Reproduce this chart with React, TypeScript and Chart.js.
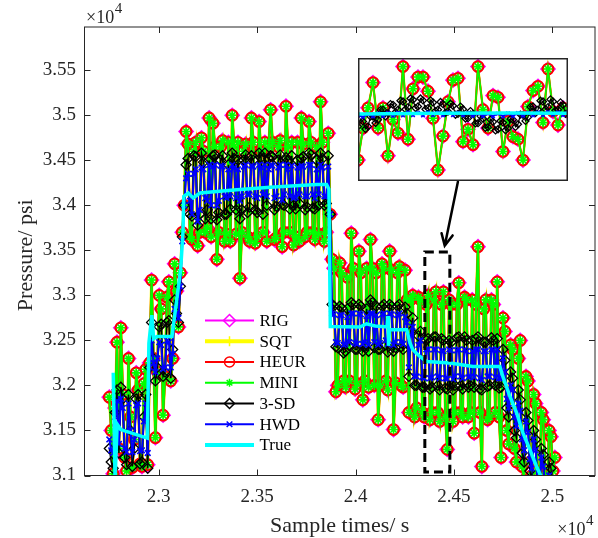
import React, { useEffect, useRef } from 'react';
import { Chart, registerables } from 'chart.js';

Chart.register(...registerables);

// ---------------- data ----------------
const SAMPLE_START = 22750; // s
const SAMPLE_STEP = 9.75; // s

// RIG / SQT / HEUR / MINI all show the same noisy measurement (psi)
const measured = [
  31870, 31500, 31020, 31750, 32480, 31300, 32640, 31900, 31200, 31050,
  32300, 31650, 31090, 31400, 32140, 31950, 31130, 31100, 32020, 32180,
  31120, 32250, 33170, 32300, 31420, 32150, 33000, 32850, 31670, 32100,
  32980, 33150, 32050, 32300, 33350, 33050, 32650, 33250, 33700, 34000,
  34820, 34680, 33650, 33620, 34600, 34700, 33550, 33700, 34750, 34600,
  33700, 33750, 34970, 33650, 34910, 34650, 33400, 33700, 34650, 34720,
  33600, 33680, 34700, 33600, 35000, 34650, 33680, 34700, 33190, 33700,
  34600, 34680, 33650, 33600, 34970, 34700, 33580, 33650, 34930, 34600,
  33700, 34700, 33600, 34650, 35060, 34700, 33620, 33640, 34650, 34720,
  33540, 33700, 35100, 34650, 33700, 34700, 33560, 33650, 34700, 33600,
  34970, 34680, 33650, 33700, 34930, 34700, 33700, 33620, 34650, 33680,
  35150, 34700, 33600, 33700, 34800, 33900,
  33400, 33300, 31930, 32000, 33360, 33250, 32050, 31980, 33200, 32050,
  33690, 33300, 31960, 32020, 33490, 33250, 31840, 32050, 33300, 31980,
  33620, 33300, 32000, 33250, 31620, 32000, 33350, 33300, 32050, 31950,
  33490, 33280, 31510, 32030, 33250, 33320, 32000, 31980, 33280, 32950,
  31700, 32950, 33000, 31650, 31750, 32980, 32950, 31700, 31650, 32900,
  33000, 31620, 31700, 32950, 33040, 31700, 31600, 32900, 33040, 31650,
  31290, 32950, 32900, 31600, 31700, 32900, 33140, 31700, 31650, 32980,
  32950, 31650, 31700, 32950, 31470, 32900, 33540, 31700, 31100, 32850,
  32950, 31620, 31650, 32950, 32900, 31700, 33150, 31650, 31200, 32750,
  32600, 31500, 31350, 32450, 32400, 31300, 31150, 32300, 32500, 31100,
  30950, 32100, 32050, 31150, 31000, 31900, 31800, 31050, 30800, 31700,
  31620, 31000, 30700, 31500, 31430, 31050, 31200,
];

const threeSD = [
  31300, 31150, 31080, 31700, 31950, 31250, 31980, 31850, 31200, 31120,
  31900, 31500, 31100, 31300, 31850, 31900, 31130, 31150, 31650, 31900,
  31080, 32200, 32700, 32300, 32050, 32200, 32650, 32680, 32100, 32150,
  32700, 32720, 32080, 32400, 32950, 32800, 32700, 33100, 33650, 34000,
  34450, 34520, 33900, 33880, 34550, 34540, 33780, 33900, 34580, 34480,
  33850, 33950, 34500, 33850, 34550, 34560, 33840, 33920, 34500, 34550,
  33900, 33900, 34450, 33960, 34580, 34520, 33950, 34500, 33850, 33950,
  34500, 34560, 33920, 33980, 34550, 34500, 33950, 33920, 34580, 34530,
  33900, 34580, 34000, 34520, 34550, 34540, 33950, 33990, 34500, 34560,
  34010, 34000, 34530, 34500, 33960, 34550, 34000, 33960, 34500, 34020,
  34520, 34540, 33950, 33980, 34580, 34560, 33970, 33960, 34500, 34000,
  34580, 34520, 34000, 34020, 34550, 33900,
  32900, 32880, 32430, 32420, 32880, 32860, 32360, 32380, 32850, 32440,
  32920, 32900, 32400, 32400, 32900, 32880, 32380, 32430, 32850, 32380,
  32950, 32920, 32420, 32880, 32400, 32400, 32880, 32900, 32450, 32370,
  32900, 32880, 32380, 32420, 32880, 32900, 32430, 32400, 32870, 32800,
  32100, 32600, 32750, 32000, 32000, 32550, 32600, 31980, 31980, 32500,
  32520, 31960, 31980, 32540, 32540, 32000, 31950, 32520, 32500, 31970,
  31960, 32500, 32480, 31950, 32000, 32530, 32540, 32000, 31960, 32540,
  32500, 31980, 32000, 32500, 31980, 32520, 32540, 31960, 31950, 32480,
  32480, 31990, 32000, 32530, 32500, 32000, 32520, 31970, 31980, 32400,
  32280, 31750, 31650, 32150, 32080, 31500, 31420, 31950, 31840, 31250,
  31150, 31700, 31610, 31050, 30950, 31500, 31400, 30850, 30750, 31300,
  31230, 30700, 30600, 31150, 31080, 30600, 30500,
];

const hwd = [
  31400, 31280, 31250, 31650, 31830, 31350, 31850, 31750, 31300, 31260,
  31800, 31500, 31260, 31400, 31780, 31800, 31270, 31280, 31600, 31800,
  31250, 32200, 32500, 32250, 32150, 32300, 32480, 32450, 32180, 32200,
  32500, 32480, 32200, 32350, 32850, 32800, 32750, 33100, 33600, 34000,
  34300, 34350, 34050, 33900, 34350, 34400, 33820, 33950, 34420, 34400,
  34080, 34050, 34450, 34000, 34430, 34450, 34000, 34050, 34440, 34430,
  34100, 34080, 34400, 34100, 34450, 34420, 34080, 34400, 34050, 34100,
  34430, 34450, 34120, 34120, 34440, 34430, 34100, 34080, 34450, 34420,
  34120, 34450, 34100, 34400, 34450, 34440, 34080, 34100, 34420, 34450,
  34060, 34120, 34450, 34400, 34100, 34440, 34080, 34090, 34420, 34120,
  34440, 34430, 34100, 34100, 34450, 34450, 34120, 34080, 34400, 34120,
  34450, 34420, 34100, 34100, 34430, 33900,
  32800, 32790, 32480, 32470, 32780, 32780, 32450, 32460, 32760, 32480,
  32800, 32800, 32470, 32460, 32800, 32790, 32460, 32480, 32770, 32450,
  32800, 32800, 32480, 32780, 32450, 32470, 32790, 32800, 32500, 32460,
  32800, 32790, 32450, 32480, 32780, 32800, 32480, 32460, 32760, 32700,
  32200, 32550, 32650, 32100, 32100, 32450, 32500, 32090, 32080, 32400,
  32400, 32080, 32090, 32400, 32400, 32100, 32080, 32390, 32380, 32080,
  32070, 32400, 32390, 32070, 32100, 32390, 32400, 32100, 32080, 32400,
  32380, 32090, 32100, 32380, 32090, 32400, 32400, 32080, 32060, 32380,
  32380, 32100, 32100, 32400, 32390, 32090, 32400, 32080, 32080, 32300,
  32150, 31850, 31750, 32000, 31950, 31650, 31550, 31800, 31720, 31400,
  31280, 31600, 31480, 31180, 31080, 31400, 31280, 30950, 30880, 31200,
  31100, 30800, 30720, 31000, 30950, 30700, 30650,
];

const trueTimes = [
  22770, 22779, 22790, 22808, 22880, 22943, 22951, 22966, 22975, 22992,
  23068, 23112, 23124, 23128, 23151, 23176, 23210, 23397, 23566, 23803,
  23853, 23865, 23872, 24022, 24056, 24100, 24160, 24165, 24168, 24172,
  24260, 24276, 24291, 24327, 24361, 24479, 24596, 24733, 24748, 24784,
  24818, 24850, 24886, 24919, 24961,
];
const trueValues = [
  32140, 30950, 31570, 31510, 31460, 31415, 32470, 32780, 32520, 32544,
  32544, 33285, 33700, 34100, 34137, 34082, 34137, 34174, 34200, 34230,
  34230, 34180, 32655, 32649, 32685, 32660, 32650, 32770, 32440, 32620,
  32619, 32474, 32397, 32322, 32266, 32249, 32211, 32211, 32100, 31878,
  31696, 31474, 31285, 31100, 30900,
];

// inset (zoomed view of the dashed box)
const INSET_START = 24352;
const INSET_STEP = 3;
const INSET_FINE_STEP = 1.5;
const insetMeasured = [
  31490, 32010, 32340, 32750, 32010, 32340, 31560, 32150, 31930, 33010,
  31830, 32650, 32840, 32840, 32610, 32170, 31330, 31880, 32440, 32790,
  32820, 31790, 31990, 31740, 33010, 32310, 32010, 32540, 32510, 31630,
  32120, 31870, 31830, 31490, 32360, 32620, 32690, 32100, 32970, 32280,
  32060, 32340, 32280,
];
const insetThreeSD = [
  32036, 32156, 32117, 31996, 32036, 32197, 32199, 32092, 32145, 32306,
  32308, 32200, 32253, 32401, 32389, 32268, 32308, 32455, 32443, 32317,
  32351, 32491, 32471, 32336, 32362, 32491, 32460, 32317, 32335, 32461,
  32427, 32287, 32308, 32434, 32400, 32260, 32280, 32406, 32373, 32227,
  32242, 32360, 32318, 32165, 32172, 32287, 32242, 32086, 32090, 32205,
  32161, 32013, 32025, 32148, 32112, 31972, 31992, 32126, 32101, 31975,
  32009, 32157, 32145, 32029, 32074, 32230, 32226, 32127, 32188, 32355,
  32362, 32255, 32308, 32455, 32443, 32317, 32351, 32477, 32443, 32295,
  32308, 32428, 32389, 32241, 32253,
];
const insetHwd = [
  32215, 32190, 32235, 32200, 32250, 32205, 32255, 32210, 32260, 32215,
  32265, 32220, 32260, 32215, 32265, 32220, 32260, 32215, 32265, 32220,
  32260, 32215, 32255, 32210, 32250, 32205, 32245, 32200, 32245, 32200,
  32250, 32205, 32255, 32210, 32260, 32215, 32265, 32220, 32270, 32225,
  32265, 32220, 32260,
];
const insetTrueTimes = [24352, 24400, 24440, 24478];
const insetTrueValues = [32240, 32250, 32255, 32250];

const xTicks = [23000, 23500, 24000, 24500, 25000];
const yTicks = [31000, 31500, 32000, 32500, 33000, 33500, 34000, 34500, 35000, 35500];
const X_MIN = 22624;
const X_MAX = 25216;
const Y_MIN = 31000;
const Y_MAX = 35980;
const INSET_Y_MIN = 31150;
const INSET_Y_MAX = 33150;

// annotation positions in data units
const zoomBox = { x0: 24352, x1: 24479, y0: 31039, y1: 33483 };
const arrowLine = { fromX: 24520, fromY: 34263, toX: 24453, toY: 33551 };
const insetArea = { x0: 24014, x1: 25077, y0: 34274, y1: 35638 };

const seriesNames = ['RIG', 'SQT', 'HEUR', 'MINI', '3-SD', 'HWD', 'True'];
const seriesColors = ['#ff00ff', '#ffff00', '#ff0000', '#00ff00', '#000000', '#0000ff', '#00ffff'];
const seriesMarkers: (string | false)[] = ['rectRot', 'cross', 'circle', 'star', 'rectRot', 'crossRot', false];
const markerRadius = [7, 5, 5.2, 4.5, 5, 4, 0];
const markerWidth = [1.6, 1.5, 2.3, 1.6, 1.3, 1.6, 0];
const lineWidths = [2, 3, 2.4, 2.1, 1.5, 2, 3.5];
const legendLineWidths = [2, 4, 2, 2, 2, 2, 4];
const legendMarkerRadius = [6, 5, 5, 4, 5, 4, 0];

const SERIF = '"Liberation Serif", "Times New Roman", serif';
const AXIS_COLOR = '#262626';

Chart.defaults.font.family = SERIF;

const fmt = (v: number) => String(parseFloat((v / 1e4).toFixed(3)));
const gridPoints = (vals: number[], start: number, step: number) =>
  vals.map((v, i) => ({ x: start + i * step, y: v }));
const zipPoints = (xs: number[], ys: number[]) => xs.map((x, i) => ({ x, y: ys[i] }));

function makeDatasets(meas: any[], sd: any[], hw: any[], tru: any[], sdRadius: number, hwRadius: number, lineScale: number) {
  const series = [meas, meas, meas, meas, sd, hw, tru];
  return seriesNames.map((name, k) => ({
    label: name,
    data: series[k],
    borderColor: seriesColors[k],
    backgroundColor: seriesColors[k],
    borderWidth: k === 6 ? lineWidths[k] : lineWidths[k] * lineScale,
    pointStyle: seriesMarkers[k],
    pointRadius: k === 4 ? sdRadius : k === 5 ? hwRadius : markerRadius[k],
    pointHoverRadius: 0,
    pointBorderWidth: markerWidth[k],
    pointBorderColor: seriesColors[k],
    pointBackgroundColor: 'rgba(0,0,0,0)',
    tension: 0,
    order: 7 - k,
    clip: 0,
  }));
}

function drawMarker(ctx: CanvasRenderingContext2D, style: string | false, x: number, y: number, r: number, color: string, lw: number) {
  if (!style || r <= 0) return;
  const d = r * Math.SQRT1_2;
  ctx.save();
  ctx.strokeStyle = color;
  ctx.lineWidth = lw;
  ctx.beginPath();
  if (style === 'rectRot') {
    ctx.moveTo(x, y - r);
    ctx.lineTo(x + r, y);
    ctx.lineTo(x, y + r);
    ctx.lineTo(x - r, y);
    ctx.closePath();
  } else if (style === 'cross') {
    ctx.moveTo(x - r, y); ctx.lineTo(x + r, y);
    ctx.moveTo(x, y - r); ctx.lineTo(x, y + r);
  } else if (style === 'circle') {
    ctx.arc(x, y, r, 0, Math.PI * 2);
  } else if (style === 'star') {
    ctx.moveTo(x - r, y); ctx.lineTo(x + r, y);
    ctx.moveTo(x, y - r); ctx.lineTo(x, y + r);
    ctx.moveTo(x - d, y - d); ctx.lineTo(x + d, y + d);
    ctx.moveTo(x - d, y + d); ctx.lineTo(x + d, y - d);
  } else if (style === 'crossRot') {
    ctx.moveTo(x - d, y - d); ctx.lineTo(x + d, y + d);
    ctx.moveTo(x - d, y + d); ctx.lineTo(x + d, y - d);
  }
  ctx.stroke();
  ctx.restore();
}

function drawTimes10(ctx: CanvasRenderingContext2D, x: number, baseline: number, alignRight: boolean) {
  ctx.save();
  ctx.fillStyle = AXIS_COLOR;
  ctx.textBaseline = 'alphabetic';
  ctx.textAlign = 'left';
  ctx.font = `18px ${SERIF}`;
  const w1 = ctx.measureText('\u00d710').width;
  ctx.font = `15px ${SERIF}`;
  const w2 = ctx.measureText('4').width;
  const x0 = alignRight ? x - w1 - w2 : x;
  ctx.font = `18px ${SERIF}`;
  ctx.fillText('\u00d710', x0, baseline);
  ctx.font = `15px ${SERIF}`;
  ctx.fillText('4', x0 + w1 + 0.5, baseline - 10);
  ctx.restore();
}

const decorPlugin = {
  id: 'decor',
  afterDatasetsDraw(chart: any) {
    const { ctx, scales } = chart;
    const x = scales.x, y = scales.y;
    ctx.save();
    ctx.strokeStyle = '#000000';
    ctx.lineWidth = 3;
    ctx.setLineDash([9, 5]);
    const bx0 = x.getPixelForValue(zoomBox.x0);
    const bx1 = x.getPixelForValue(zoomBox.x1);
    const by0 = y.getPixelForValue(zoomBox.y0);
    const by1 = y.getPixelForValue(zoomBox.y1);
    ctx.strokeRect(bx0, by1, bx1 - bx0, by0 - by1);
    ctx.setLineDash([]);
    const ax0 = x.getPixelForValue(arrowLine.fromX);
    const ay0 = y.getPixelForValue(arrowLine.fromY);
    const ax1 = x.getPixelForValue(arrowLine.toX);
    const ay1 = y.getPixelForValue(arrowLine.toY);
    ctx.lineWidth = 2.5;
    ctx.lineCap = 'round';
    ctx.beginPath();
    ctx.moveTo(ax0, ay0);
    ctx.lineTo(ax1, ay1);
    const ang = Math.atan2(ay1 - ay0, ax1 - ax0);
    const hl = 13, spread = 0.45;
    ctx.moveTo(ax1 - hl * Math.cos(ang - spread), ay1 - hl * Math.sin(ang - spread));
    ctx.lineTo(ax1, ay1);
    ctx.lineTo(ax1 - hl * Math.cos(ang + spread), ay1 - hl * Math.sin(ang + spread));
    ctx.stroke();
    ctx.restore();
  },
  afterDraw(chart: any) {
    const { ctx, chartArea: a, scales } = chart;
    const x = scales.x, y = scales.y;
    ctx.save();
    ctx.strokeStyle = AXIS_COLOR;
    ctx.lineWidth = 1;
    ctx.strokeRect(a.left, a.top, a.right - a.left, a.bottom - a.top);
    const tl = 6;
    ctx.beginPath();
    xTicks.forEach((v) => {
      const px = Math.round(x.getPixelForValue(v)) + 0.5;
      ctx.moveTo(px, a.bottom); ctx.lineTo(px, a.bottom - tl);
      ctx.moveTo(px, a.top); ctx.lineTo(px, a.top + tl);
    });
    yTicks.forEach((v) => {
      const py = Math.round(y.getPixelForValue(v)) + 0.5;
      ctx.moveTo(a.left, py); ctx.lineTo(a.left + tl, py);
      ctx.moveTo(a.right, py); ctx.lineTo(a.right - tl, py);
    });
    ctx.stroke();

    drawTimes10(ctx, a.left + 1.5, 23.3, false);
    drawTimes10(ctx, a.right - 2, 535, true);

    ctx.fillStyle = AXIS_COLOR;
    ctx.font = `22px ${SERIF}`;
    ctx.textAlign = 'center';
    ctx.textBaseline = 'alphabetic';
    ctx.fillText('Sample times/ s', (a.left + a.right) / 2, 531.5);
    ctx.save();
    ctx.translate(31.5, (a.top + a.bottom) / 2 + 4);
    ctx.rotate(-Math.PI / 2);
    ctx.fillText('Pressure/ psi', 0, 0);
    ctx.restore();

    const lx0 = a.left + 120.5;
    const lx1 = a.left + 169.5;
    const mx = (lx0 + lx1) / 2;
    const tx = a.left + 175;
    ctx.font = `17px ${SERIF}`;
    ctx.textAlign = 'left';
    ctx.textBaseline = 'middle';
    seriesNames.forEach((name, k) => {
      const ly = a.top + 293.5 + k * 20.75;
      ctx.strokeStyle = seriesColors[k];
      ctx.lineWidth = legendLineWidths[k];
      ctx.lineCap = 'butt';
      ctx.beginPath();
      ctx.moveTo(lx0, ly);
      ctx.lineTo(lx1, ly);
      ctx.stroke();
      drawMarker(ctx, seriesMarkers[k], mx, ly, legendMarkerRadius[k], seriesColors[k], 1.5);
      ctx.fillStyle = '#000000';
      ctx.fillText(name, tx, ly + 1);
    });
    ctx.restore();
  },
};

const insetFramePlugin = {
  id: 'insetFrame',
  beforeDraw(chart: any) {
    const { ctx, width, height } = chart;
    ctx.save();
    ctx.fillStyle = '#ffffff';
    ctx.fillRect(0, 0, width, height);
    ctx.restore();
  },
  afterDraw(chart: any) {
    const { ctx, width, height } = chart;
    ctx.save();
    ctx.strokeStyle = AXIS_COLOR;
    ctx.lineWidth = 1.5;
    ctx.strokeRect(0.75, 0.75, width - 1.5, height - 1.5);
    ctx.restore();
  },
};

export default function App() {
  const mainRef = useRef<HTMLCanvasElement>(null);
  const insetRef = useRef<HTMLCanvasElement>(null);
  const insetWrapRef = useRef<HTMLDivElement>(null);

  useEffect(() => {
    document.body.style.margin = '0';
    if (!mainRef.current || !insetRef.current || !insetWrapRef.current) return;

    const mainChart = new Chart(mainRef.current, {
      type: 'line',
      data: {
        datasets: makeDatasets(
          gridPoints(measured, SAMPLE_START, SAMPLE_STEP),
          gridPoints(threeSD, SAMPLE_START, SAMPLE_STEP),
          gridPoints(hwd, SAMPLE_START, SAMPLE_STEP),
          zipPoints(trueTimes, trueValues),
          5,
          4,
          1,
        ) as any,
      },
      options: {
        responsive: false,
        animation: false,
        devicePixelRatio: 1,
        events: [],
        layout: { autoPadding: false, padding: { left: 0, right: 3, top: 27, bottom: 0 } },
        plugins: { legend: { display: false }, tooltip: { enabled: false } },
        scales: {
          x: {
            type: 'linear',
            min: X_MIN,
            max: X_MAX,
            grid: { display: false, drawTicks: false },
            border: { display: false },
            ticks: {
              autoSkip: false,
              maxRotation: 0,
              padding: 10.5,
              color: AXIS_COLOR,
              font: { family: SERIF, size: 19 },
              callback: (v: any) => fmt(Number(v)),
            },
            afterBuildTicks: (s: any) => { s.ticks = xTicks.map((v) => ({ value: v })); },
            afterFit: (s: any) => { s.height = 62.5; s.paddingLeft = 0; s.paddingRight = 0; },
          },
          y: {
            type: 'linear',
            min: Y_MIN,
            max: Y_MAX,
            grid: { display: false, drawTicks: false },
            border: { display: false },
            ticks: {
              autoSkip: false,
              padding: 8.5,
              color: AXIS_COLOR,
              font: { family: SERIF, size: 19 },
              callback: (v: any) => fmt(Number(v)),
            },
            afterBuildTicks: (s: any) => { s.ticks = yTicks.map((v) => ({ value: v })); },
            afterFit: (s: any) => { s.width = 84.5; s.paddingTop = 0; s.paddingBottom = 0; },
          },
        },
      } as any,
      plugins: [decorPlugin],
    });

    const xs: any = mainChart.scales.x;
    const ys: any = mainChart.scales.y;
    const left = Math.round(xs.getPixelForValue(insetArea.x0));
    const right = Math.round(xs.getPixelForValue(insetArea.x1));
    const top = Math.round(ys.getPixelForValue(insetArea.y1));
    const bottom = Math.round(ys.getPixelForValue(insetArea.y0));
    const wrap = insetWrapRef.current;
    wrap.style.left = left + 'px';
    wrap.style.top = top + 'px';
    const ic = insetRef.current;
    ic.width = right - left;
    ic.height = bottom - top;
    ic.style.width = right - left + 'px';
    ic.style.height = bottom - top + 'px';

    const insetChart = new Chart(ic, {
      type: 'line',
      data: {
        datasets: makeDatasets(
          gridPoints(insetMeasured, INSET_START, INSET_STEP),
          gridPoints(insetThreeSD, INSET_START, INSET_FINE_STEP),
          gridPoints(insetHwd, INSET_START, INSET_STEP),
          zipPoints(insetTrueTimes, insetTrueValues),
          3.5,
          2.5,
          0.8,
        ) as any,
      },
      options: {
        responsive: false,
        animation: false,
        devicePixelRatio: 1,
        events: [],
        layout: { autoPadding: false, padding: 0 },
        plugins: { legend: { display: false }, tooltip: { enabled: false } },
        scales: {
          x: { type: 'linear', display: false, min: INSET_START, max: INSET_START + (insetMeasured.length - 1) * INSET_STEP },
          y: { type: 'linear', display: false, min: INSET_Y_MIN, max: INSET_Y_MAX },
        },
      } as any,
      plugins: [insetFramePlugin],
    });

    return () => {
      insetChart.destroy();
      mainChart.destroy();
    };
  }, []);

  return (
    <div style={{ position: 'relative', width: 598, height: 538, background: '#ffffff' }}>
      <canvas ref={mainRef} width={598} height={538} style={{ display: 'block', width: 598, height: 538 }} />
      <div ref={insetWrapRef} style={{ position: 'absolute', left: 0, top: 0 }}>
        <canvas ref={insetRef} style={{ display: 'block', background: '#ffffff' }} />
      </div>
    </div>
  );
}
